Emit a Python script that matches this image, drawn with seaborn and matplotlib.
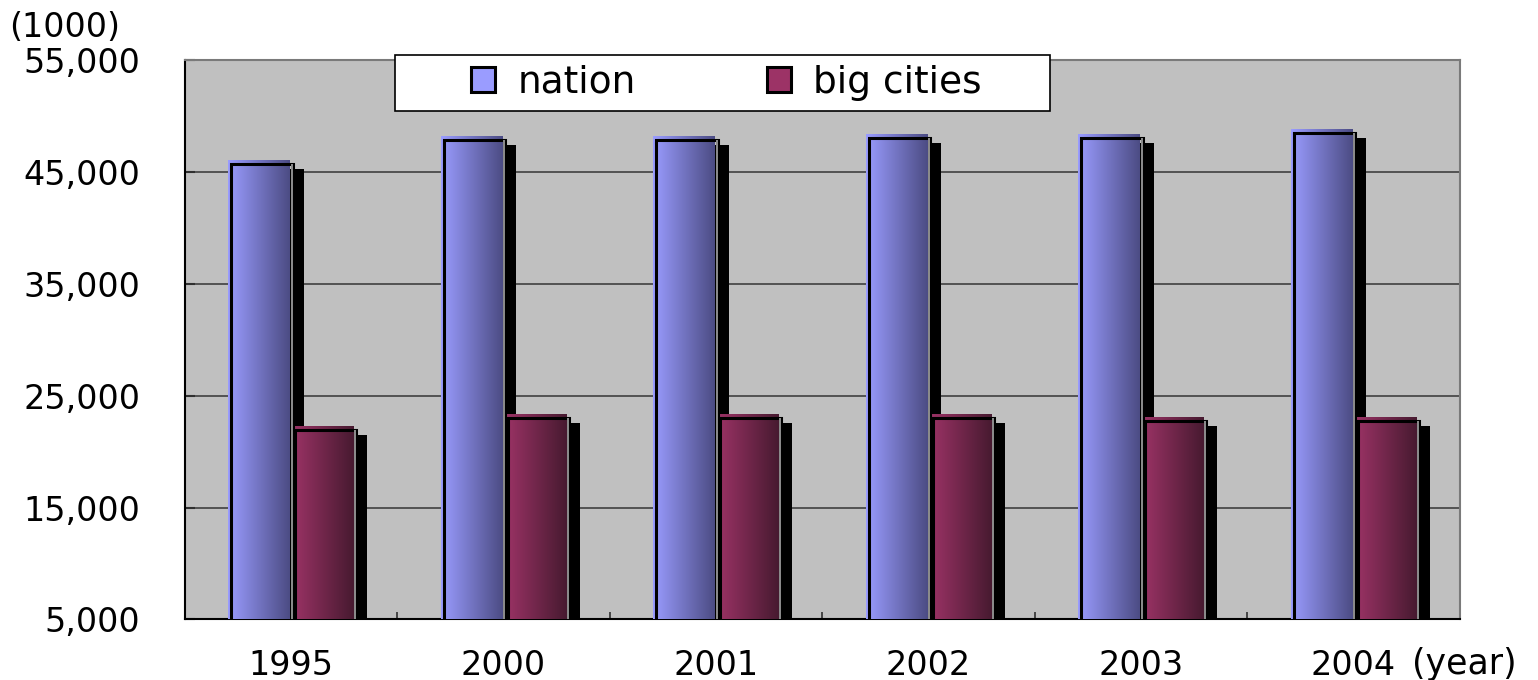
import numpy as np
import pandas as pd
import matplotlib
matplotlib.use("Agg")
import matplotlib.pyplot as plt
import matplotlib.transforms as mtransforms
from matplotlib.colors import LinearSegmentedColormap
from matplotlib.patches import Rectangle, Patch
from matplotlib.ticker import FuncFormatter, FixedLocator
import seaborn as sns

years = ["1995", "2000", "2001", "2002", "2003", "2004"]
nation = [46000, 48100, 48100, 48300, 48300, 48700]
big_cities = [22200, 23250, 23250, 23250, 23000, 23000]
series_names = ["nation", "big cities"]
y_ticks = [5000, 15000, 25000, 35000, 45000, 55000]

# gradient colours, light on the left to dark on the right
grad_colors = {
    "nation": ("#9a9cff", "#4c4c84"),
    "big cities": ("#9c3366", "#471a30"),
}

df = pd.DataFrame({
    "year": years * 2,
    "value": nation + big_cities,
    "series": [series_names[0]] * len(years) + [series_names[1]] * len(years),
})

sns.set_style("white")
plt.rcParams["font.family"] = ["DejaVu Sans"]
plt.rcParams["text.color"] = "black"
plt.rcParams["xtick.color"] = "black"
plt.rcParams["ytick.color"] = "black"

fig = plt.figure(figsize=(15.38, 6.8), dpi=100)
ax = fig.add_axes([0.120, 0.089, 0.829, 0.823])
ax.set_facecolor("#c0c0c0")

sns.barplot(data=df, x="year", y="value", hue="series", order=years,
            hue_order=series_names, width=0.6, gap=0.04,
            palette=[grad_colors[s][0] for s in series_names],
            edgecolor="none", legend=False, ax=ax, zorder=3)

ylo, yhi = y_ticks[0], y_ticks[-1]
ax.set_ylim(ylo, yhi)
xlim = ax.get_xlim()

shadow_tr = mtransforms.offset_copy(ax.transData, fig=fig, x=14, y=-8, units="dots")
outline_tr = mtransforms.offset_copy(ax.transData, fig=fig, x=3, y=-3, units="dots")
grad = np.linspace(0, 1, 256).reshape(1, -1)

for name, cont in zip(series_names, ax.containers):
    cmap = LinearSegmentedColormap.from_list(name, grad_colors[name])
    for bar in cont:
        x0, w = bar.get_x(), bar.get_width()
        top = bar.get_y() + bar.get_height()
        ax.add_patch(Rectangle((x0, ylo), w, top - ylo, transform=shadow_tr,
                               facecolor="black", edgecolor="none", zorder=2))
        ax.imshow(grad, extent=[x0, x0 + w, ylo, top], aspect="auto",
                  cmap=cmap, zorder=4, interpolation="bilinear")
        ax.add_patch(Rectangle((x0, ylo), w, top - ylo, transform=outline_tr,
                               facecolor="none", edgecolor="black",
                               linewidth=2.2, zorder=5))
        ax.add_patch(Rectangle((x0 + w * 0.97, ylo), w * 0.03, top - ylo,
                               transform=outline_tr, facecolor="#8a8a8a",
                               edgecolor="none", zorder=5))

ax.set_xlim(xlim)
ax.set_ylim(ylo, yhi)

ax.yaxis.set_major_locator(FixedLocator(y_ticks))
ax.yaxis.set_major_formatter(FuncFormatter(lambda v, p: f"{int(v):,}"))
ax.grid(axis="y", color="#404040", linewidth=1.2, zorder=1)
ax.set_axisbelow(True)
ax.set_xlabel("")
ax.set_ylabel("")

ax.tick_params(axis="y", which="major", direction="in", length=7, width=1.5,
               color="#303030", labelsize=24, pad=32, left=True)
ax.tick_params(axis="x", which="major", length=0, labelsize=24, pad=21)
ax.set_xticks(np.arange(len(years) + 1) - 0.5, minor=True)
ax.tick_params(axis="x", which="minor", direction="in", length=5, width=1.2,
               color="#303030", bottom=True)

for side in ["left", "bottom"]:
    ax.spines[side].set_color("black")
    ax.spines[side].set_linewidth(1.5)
for side in ["top", "right"]:
    ax.spines[side].set_color("#7a7a7a")
    ax.spines[side].set_linewidth(1.5)

# legend box drawn separately so its width can match the original
ax.add_patch(Rectangle((0.1647, 0.9093), 0.5137, 0.0996, transform=ax.transAxes,
                       facecolor="white", edgecolor="black", linewidth=1.2,
                       clip_on=False, zorder=9))
handles = [Patch(facecolor=grad_colors[s][0], edgecolor="black", linewidth=2.2)
           for s in series_names]
leg = ax.legend(handles, series_names, loc="center", ncol=2,
                bbox_to_anchor=(0.425, 0.959), frameon=False, fontsize=27,
                handlelength=0.64, handleheight=0.64, handletextpad=0.59,
                columnspacing=3.5, borderaxespad=0, borderpad=0)
leg.set_zorder(10)

fig.text(0.006, 0.960, "(1000)", fontsize=24, va="center", ha="left")
fig.text(0.918, 0.024, "(year)", fontsize=25, va="center", ha="left")

fig.savefig("out.png", dpi=100)
